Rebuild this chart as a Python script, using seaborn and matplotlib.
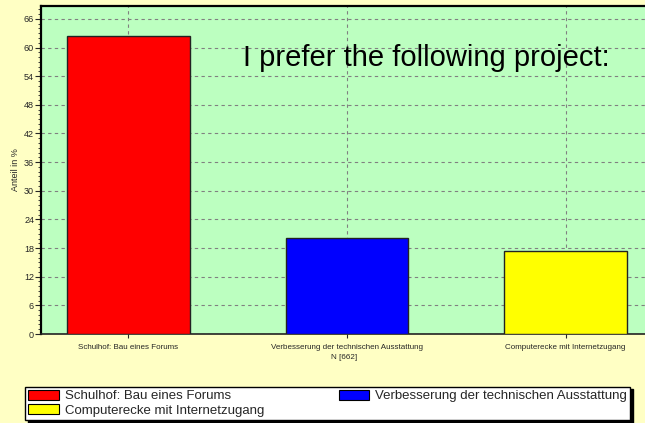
import pandas as pd
import seaborn as sns
import matplotlib.pyplot as plt
from matplotlib.patches import Patch
from matplotlib.ticker import MultipleLocator

projects = ["Schulhof: Bau eines Forums",
            "Verbesserung der technischen Ausstattung",
            "Computerecke mit Internetzugang"]
shares = [62.5, 20.1, 17.4]
colors = ["#FF0000", "#0000FF", "#FFFF00"]
n_total = 662

df = pd.DataFrame({"project": projects, "share": shares})

sns.set_style("white")
plt.rcParams['font.family'] = ['Liberation Sans', 'DejaVu Sans']

fig = plt.figure(figsize=(6.45, 4.23), dpi=100, facecolor="#FFFFC4")
ax = fig.add_axes([0.0636, 0.2104, 0.94, 0.7754])
ax.set_facecolor("#BCFFC0")

sns.barplot(data=df, x="project", y="share", hue="project", palette=colors,
            width=0.56, edgecolor="#222222", linewidth=1.0, saturation=1,
            legend=False, ax=ax, zorder=3)

ax.set_xlim(-0.4, 2.374)
ax.set_ylim(0, 68.7)
ax.yaxis.set_major_locator(MultipleLocator(6))
ax.yaxis.set_minor_locator(MultipleLocator(1))
ax.grid(True, which="major", color="#808080", linestyle=(0, (3, 3)), linewidth=0.8, zorder=0)
ax.set_axisbelow(True)

ax.tick_params(axis="y", which="major", labelsize=6.5, length=4, width=0.8, pad=1, left=True)
ax.tick_params(axis="y", which="minor", length=2, width=0.6, left=True)
ax.tick_params(axis="x", labelsize=5.8, length=3, pad=4, bottom=True)

ax.set_xlabel("N [%d]" % n_total, fontsize=5.8, labelpad=2)
ax.set_ylabel("Anteil in %", fontsize=6.5, labelpad=3)

for side in ["left", "top"]:
    ax.spines[side].set_color("black")
    ax.spines[side].set_linewidth(1.6)
ax.spines["bottom"].set_color("#222222")
ax.spines["bottom"].set_linewidth(1.2)
ax.spines["right"].set_visible(False)

ax.text(0.333, 0.84, "I prefer the following project:", transform=ax.transAxes,
        fontsize=21, ha="left", va="center", color="black")

# legend filled row by row as in the original: red, blue / yellow
order = [0, 2, 1]
handles = [Patch(facecolor=colors[i], edgecolor="black", linewidth=0.8) for i in order]
labels = [projects[i] for i in order]
fig.legend(handles, labels, loc="lower left", bbox_to_anchor=(0.0388, 0.007, 0.938, 0.085),
           mode="expand", ncol=2, fontsize=9.5, frameon=True, fancybox=False,
           shadow={"color": "black", "alpha": 1}, edgecolor="black", framealpha=1,
           handlelength=2.3, handleheight=0.75, handletextpad=0.45,
           borderpad=0.25, labelspacing=0.15, borderaxespad=0)

fig.savefig("out.png", dpi=100, facecolor=fig.get_facecolor())
